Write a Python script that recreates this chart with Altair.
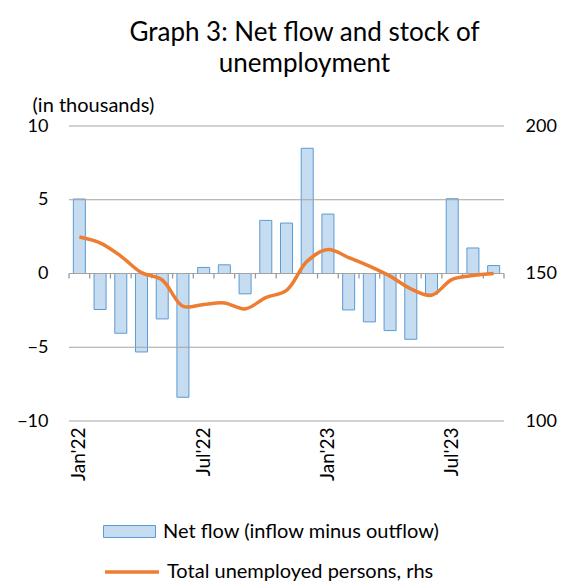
import altair as alt
import pandas as pd

months = ["Jan'22", "Feb'22", "Mar'22", "Apr'22", "May'22", "Jun'22", "Jul'22",
          "Aug'22", "Sep'22", "Oct'22", "Nov'22", "Dec'22", "Jan'23", "Feb'23",
          "Mar'23", "Apr'23", "May'23", "Jun'23", "Jul'23", "Aug'23", "Sep'23"]
net_flow = [5.05, -2.44, -4.05, -5.32, -3.08, -8.39, 0.41, 0.59, -1.38, 3.60, 3.42,
            8.49, 4.03, -2.47, -3.28, -3.87, -4.46, -1.40, 5.07, 1.73, 0.54]
unemployed = [162.4, 160.4, 155.9, 150.3, 147.8, 138.9, 139.5, 140.0, 138.0, 141.8,
              144.3, 154.2, 158.1, 155.4, 152.5, 149.1, 144.8, 142.6, 148.0, 149.3, 150.0]
shown_labels = ["Jan'22", "Jul'22", "Jan'23", "Jul'23"]
left_ticks = [-10, -5, 0, 5, 10]
right_ticks = [100, 150, 200]
left_domain = [-10, 10]
right_domain = [100, 200]
# category boundaries (between months) for the small ticks on the zero line
boundaries = list(range(len(months) + 1))

bar_label = "Net flow (inflow minus outflow)"
line_label = "Total unemployed persons, rhs"

df = pd.DataFrame({"month": months, "net": net_flow, "unemp": unemployed})
df_b = pd.DataFrame({"b": boundaries, "top": [0.0] * len(boundaries),
                     "bottom": [-0.34] * len(boundaries)})
df_g = pd.DataFrame({"g": left_ticks})

FONT = "Lato"
W, H = 435, 295
GRID = "#a3a3a3"
TICK = "#9a9a9a"
TXT = "#000000"
BAR_FILL = "#c6dcf1"
BAR_LINE = "#5b9bd5"

xscale = alt.Scale(paddingInner=0.42, paddingOuter=0.21)
yleft = alt.Scale(domain=left_domain, nice=False)

bars = alt.Chart(df).mark_bar(stroke=BAR_LINE, strokeWidth=1).encode(
    x=alt.X("month:O", sort=None, scale=xscale, title=None,
            axis=alt.Axis(values=shown_labels, labelAngle=-90, labelPadding=6,
                          ticks=False, domain=False, grid=False,
                          labelFont=FONT, labelFontSize=19, labelColor=TXT)),
    y=alt.Y("net:Q", scale=yleft,
            axis=alt.Axis(values=left_ticks, title="(in thousands)", titleAngle=0,
                          titleAlign="left", titleBaseline="alphabetic",
                          titleX=-37, titleY=-15, titleFont=FONT, titleFontSize=20,
                          titleFontWeight="normal", titleColor=TXT,
                          labelFont=FONT, labelFontSize=18, labelColor=TXT,
                          labelPadding=21, ticks=False, domain=False, grid=False)),
    fill=alt.Fill("bar:N", scale=alt.Scale(domain=[bar_label], range=[BAR_FILL]),
                  legend=alt.Legend(title=None, orient="none", legendX=34, legendY=379,
                                    symbolType="M-1,-0.23H1V0.23H-1Z", symbolSize=2704,
                                    symbolStrokeColor=BAR_LINE, symbolStrokeWidth=1,
                                    labelFont=FONT, labelFontSize=20, labelColor=TXT,
                                    labelOffset=7, labelLimit=400, padding=0)),
).transform_calculate(bar=f"'{bar_label}'")

# gridlines drawn over the bars, as in the original
grid = alt.Chart(df_g).mark_rule(color=GRID, strokeWidth=1.2).encode(
    y=alt.Y("g:Q", scale=yleft, axis=None),
)

# small tick marks below the zero line, at the boundaries between months
zero_ticks = alt.Chart(df_b).mark_rule(color=TICK, strokeWidth=1.3).encode(
    x=alt.X("b:Q", scale=alt.Scale(domain=[0, len(months)], nice=False, zero=False),
            axis=None),
    y=alt.Y("top:Q", scale=yleft, axis=None),
    y2=alt.Y2("bottom:Q"),
)

line = alt.Chart(df).mark_line(strokeWidth=3.5, interpolate="catmull-rom").encode(
    x=alt.X("month:O", sort=None, scale=xscale, axis=None),
    y=alt.Y("unemp:Q", scale=alt.Scale(domain=right_domain, nice=False),
            axis=alt.Axis(values=right_ticks, orient="right", title=None,
                          labelFont=FONT, labelFontSize=18, labelColor=TXT,
                          labelPadding=21, ticks=False, domain=False, grid=False)),
    stroke=alt.Stroke("ser:N", scale=alt.Scale(domain=[line_label], range=["#ed7d31"]),
                      legend=alt.Legend(title=None, orient="none", legendX=34, legendY=417,
                                        symbolType="stroke", symbolSize=2916,
                                        symbolStrokeWidth=3.5,
                                        labelFont=FONT, labelFontSize=20,
                                        labelColor=TXT, labelOffset=6, labelLimit=400,
                                        padding=0)),
).transform_calculate(ser=f"'{line_label}'")

chart = alt.layer(bars, grid, zero_ticks, line).resolve_scale(
    x="independent", y="independent", fill="independent", stroke="independent"
).properties(
    width=W, height=H,
    title=alt.TitleParams(["Graph 3: Net flow and stock of", "unemployment"],
                          font=FONT, fontSize=26, fontWeight="normal", color=TXT,
                          anchor="middle", dx=18, offset=18, lineHeight=31),
    autosize=alt.AutoSizeParams(type="none"),
    padding={"left": 69, "top": 126, "right": 63, "bottom": 161},
).configure(background="white", view=alt.ViewConfig(stroke=None))

chart.save("out.html", embed_options={"renderer": "svg", "actions": False})
